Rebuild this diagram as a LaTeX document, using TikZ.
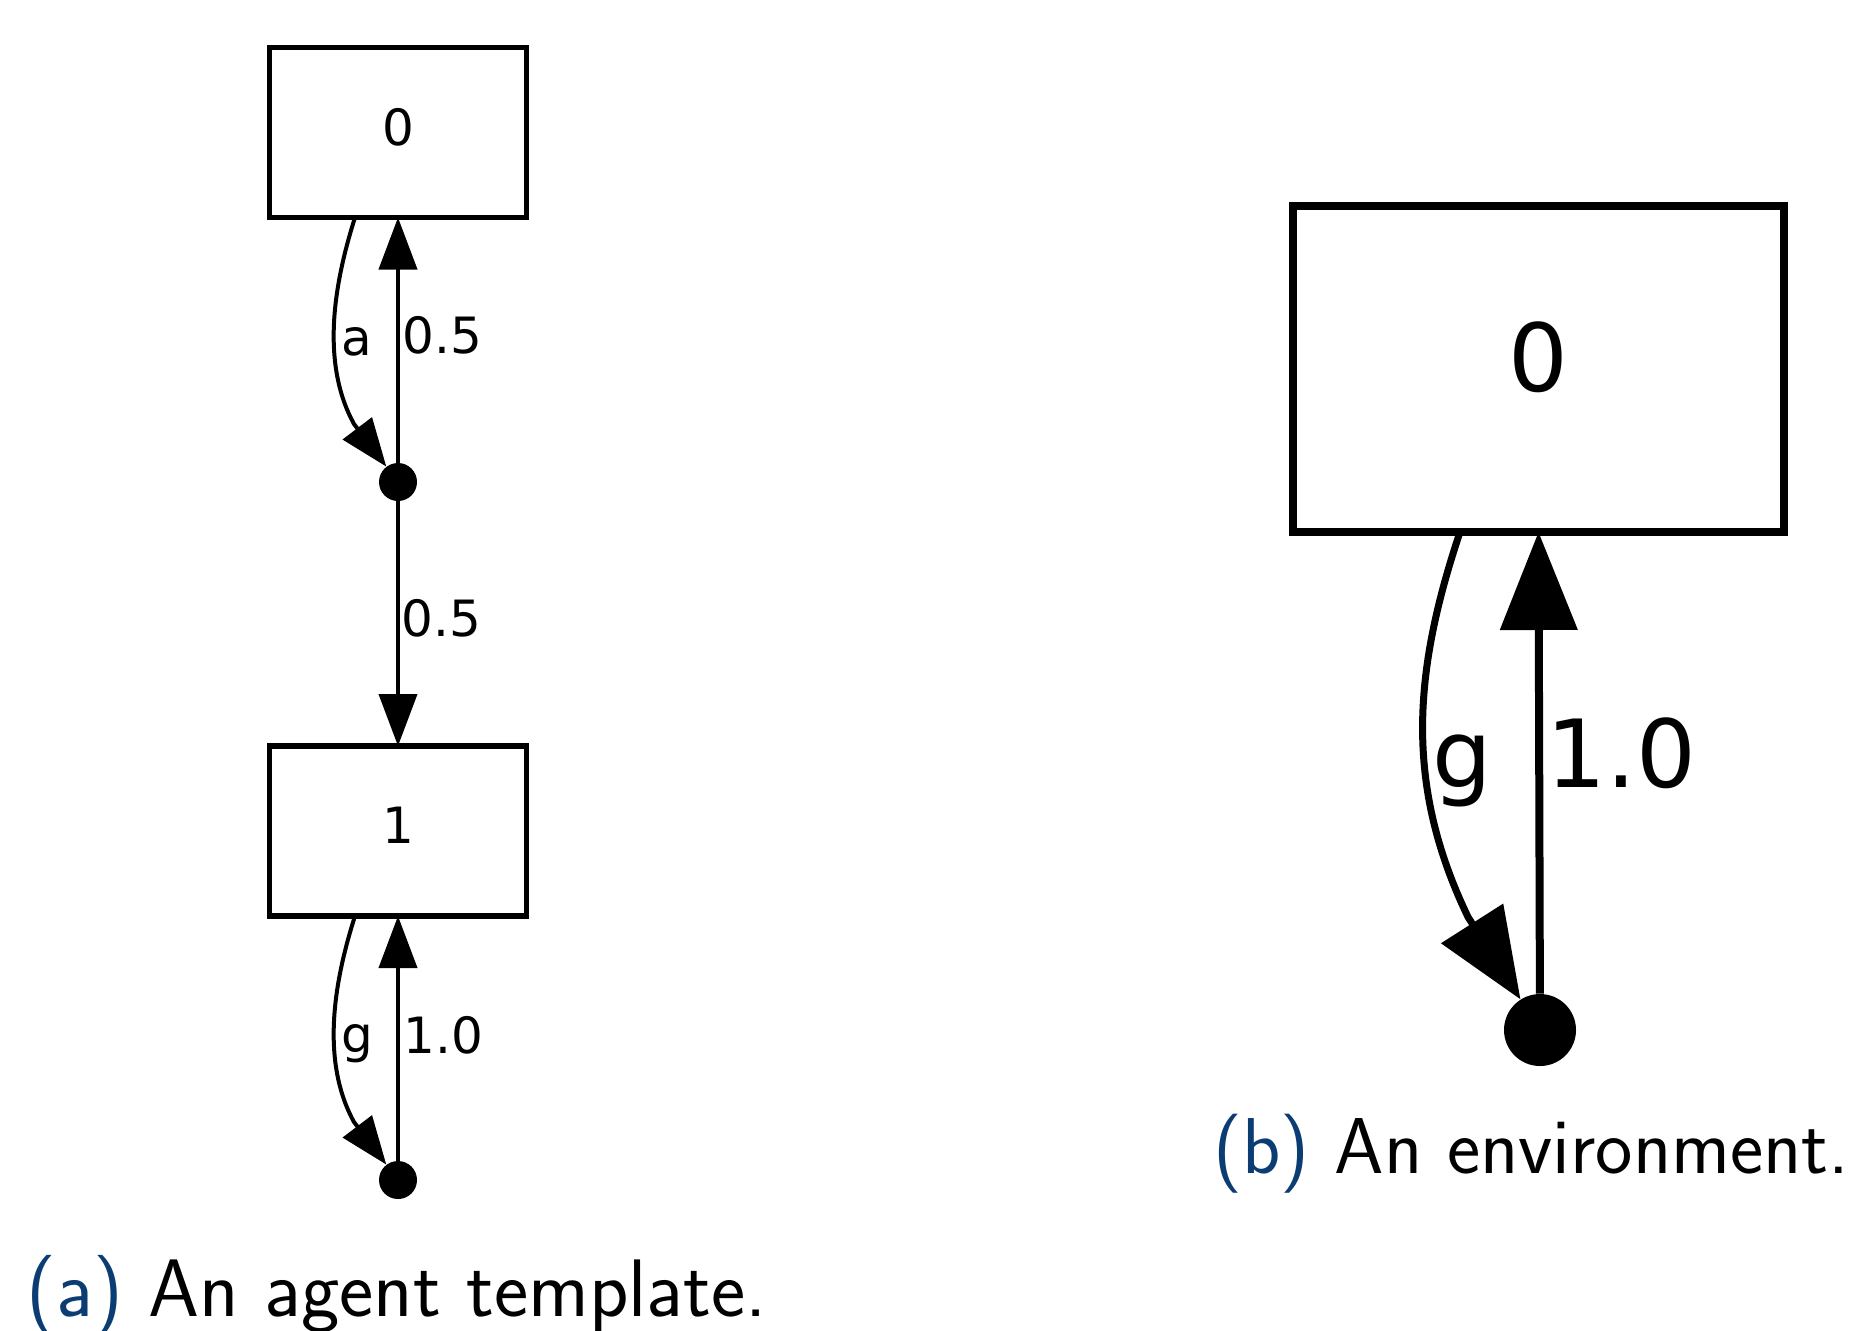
\documentclass[tikz,border=0pt]{standalone}
\usepackage{fontspec}
\newfontfamily\graphfont{DejaVu Sans}
\usetikzlibrary{arrows.meta}
\definecolor{capblue}{HTML}{0B3D73}
\begin{document}
\begin{tikzpicture}[x=0.5pt,y=-0.5pt,
  smallfont/.style={font=\graphfont\fontsize{25}{30}\selectfont},
  bigfont/.style={font=\graphfont\fontsize{47}{54}\selectfont},
  statebox/.style={draw, line width=2.6pt, minimum width=128.5pt, minimum height=85pt,
    inner sep=0pt, outer sep=0pt, text depth=6pt, smallfont},
  bigbox/.style={draw, line width=4pt, minimum width=245.5pt, minimum height=163pt,
    inner sep=0pt, outer sep=0pt, text depth=12pt, bigfont},
  smalldot/.style={circle, fill, inner sep=0pt, minimum size=19pt},
  bigdot/.style={circle, fill, inner sep=0pt, minimum size=36pt},
  smalledge/.style={line width=2pt, -{Triangle[length=26pt,width=19pt]}},
  smallcurve/.style={line width=2pt, -{Triangle[length=24pt,width=18pt]}},
  bigedge/.style={line width=4pt, -{Triangle[length=49pt,width=38pt]}},
  bigcurve/.style={line width=3.5pt, -{Triangle[length=45pt,width=36pt]}},
  edgelabel/.style={inner sep=0pt},
  caption/.style={inner sep=0pt, font=\sffamily\fontsize{#1}{44}\selectfont}
]
\useasboundingbox (0,0) rectangle (1867,1330);

% agent template
\node[statebox] (b0) at (398,132.5) {0};
\node[smalldot] (d1) at (398,482) {};
\node[statebox] (b1) at (398,831) {1};
\node[smalldot] (d2) at (398,1180) {};

\draw[smallcurve] ([xshift=-21.5pt]b0.south) .. controls (334.5,282) and (320,362) .. (354,424) -- (d1);
\draw[smalledge] (d1) -- (b0);
\draw[smalledge] (d1) -- (b1);
\draw[smallcurve] ([xshift=-21.5pt]b1.south) .. controls (334.5,980) and (320,1060) .. (354,1122) -- (d2);
\draw[smalledge] (d2) -- (b1);

\node[edgelabel, smallfont, anchor=base] (la) at (357,355) {a};
\node[edgelabel, smallfont, anchor=base west] (lp1) at (402,353) {0.5};
\node[edgelabel, smallfont, anchor=base west] (lp2) at (401,636) {0.5};
\node[edgelabel, smallfont, anchor=base] (lg1) at (357,1052) {g};
\node[edgelabel, smallfont, anchor=base west] (lq1) at (403,1053) {1.0};

\node[caption=40.8, anchor=base west] (capa) at (26,1316) {\textcolor{capblue}{(a)} An agent template.};

% environment
\node[bigbox] (br) at (1538,369) {0};
\node[bigdot] (dr) at (1540,1030) {};

\draw[bigcurve] ([xshift=-39pt]br.south) .. controls (1413.5,671) and (1404,784) .. (1468,917) -- (dr);
\draw[bigedge] (dr) -- (br);

\node[edgelabel, bigfont, anchor=base] (lg2) at (1462,787) {g};
\node[edgelabel, bigfont, anchor=base west] (lq2) at (1546,787) {1.0};

\node[caption=39.6, anchor=base west] (capb) at (1213,1173) {\textcolor{capblue}{(b)} An environment.};
\end{tikzpicture}
\end{document}
